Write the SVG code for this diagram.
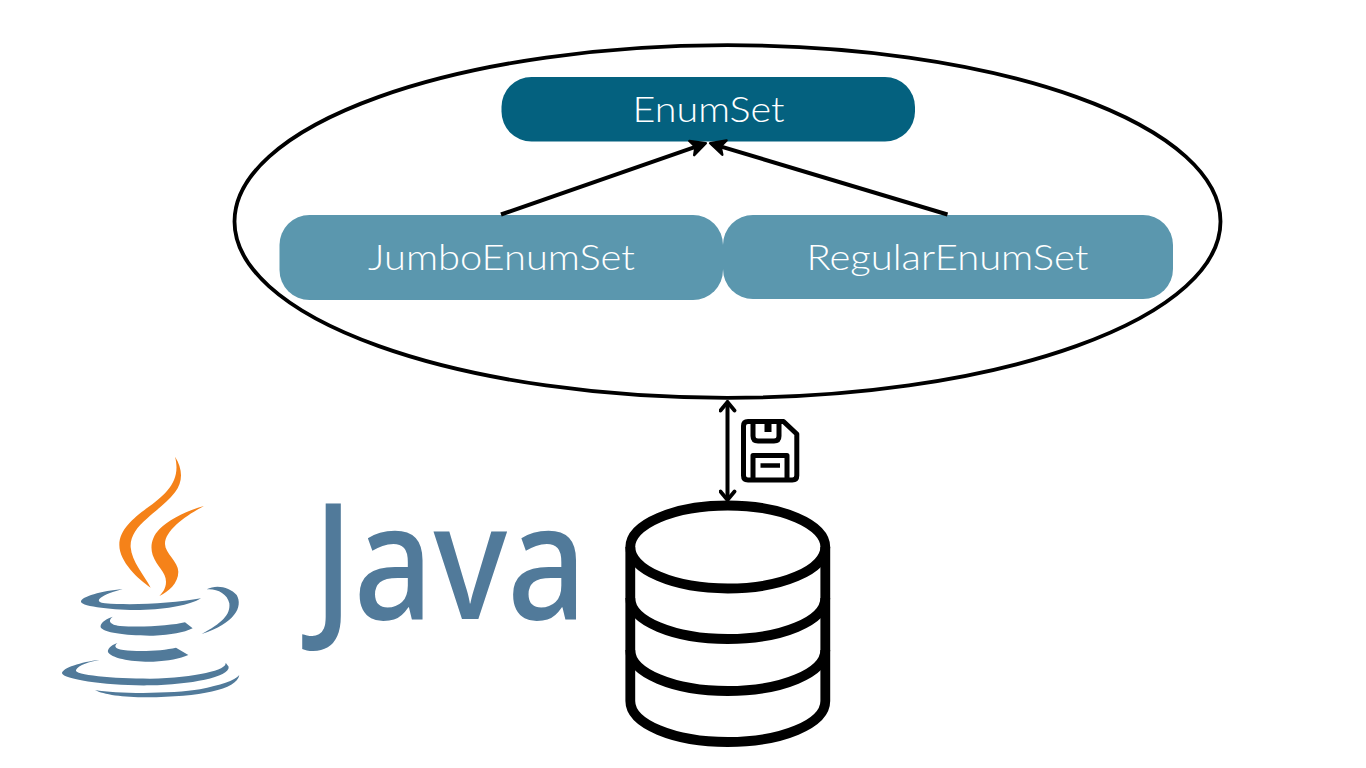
<svg xmlns="http://www.w3.org/2000/svg" width="1366" height="768" viewBox="0 0 1366 768">
<style>
.label{font-family:"Lato","Open Sans","Liberation Sans",sans-serif;font-weight:300;font-size:35.5px;fill:#fff;text-anchor:start}
.conn{fill:none;stroke:#000;stroke-width:4}
.db{fill:none;stroke:#000;stroke-width:9.8}
.blue{fill:#517a9a}
.orange{fill:#f58219}
</style>
<defs>
<marker id="head" viewBox="-12 -9 14 18" refX="0" refY="0" markerUnits="userSpaceOnUse" markerWidth="14" markerHeight="18" orient="auto-start-reverse">
<path d="M-8.5 -7L0 0L-8.5 7" fill="none" stroke="#000" stroke-width="3.8" stroke-linecap="round" stroke-linejoin="miter"/>
</marker>
<marker id="solid" viewBox="-16 -10 20 20" refX="0" refY="0" markerUnits="userSpaceOnUse" markerWidth="20" markerHeight="20" orient="auto">
<path d="M-13 -7.5L2 0L-13 7.5L-9 0Z" fill="#000" stroke="#000" stroke-width="2.4" stroke-linejoin="round"/>
</marker>
</defs>
<rect width="1366" height="768" fill="#fff"/>
<g id="boundary"><ellipse cx="727.5" cy="221.5" rx="493" ry="176.3" fill="none" stroke="#000" stroke-width="3.8"/></g>
<g id="node-enumset">
<rect x="501.5" y="77" width="413.5" height="64.5" rx="30" fill="#04617f"/>
<text class="label" x="632.5" y="121.5" textLength="152" lengthAdjust="spacingAndGlyphs">EnumSet</text>
</g>
<g id="node-jumbo">
<rect x="279.5" y="215" width="443.5" height="85" rx="30" fill="#5b97ae"/>
<text class="label" x="368" y="270" textLength="267" lengthAdjust="spacingAndGlyphs">JumboEnumSet</text>
</g>
<g id="node-regular">
<rect x="723" y="215" width="450" height="84" rx="30" fill="#5b97ae"/>
<text class="label" x="806.5" y="270" textLength="282" lengthAdjust="spacingAndGlyphs">RegularEnumSet</text>
</g>
<g id="connectors">
<line class="conn" x1="501" y1="214.5" x2="704" y2="143.8" marker-end="url(#solid)"/>
<line class="conn" x1="947.5" y1="214.5" x2="712" y2="143.8" marker-end="url(#solid)"/>
<line class="conn" x1="727.5" y1="402" x2="727.5" y2="500" stroke-width="3.8" marker-start="url(#head)" marker-end="url(#head)"/>
</g>
<g id="floppy" fill="none" stroke="#000" stroke-width="5" stroke-linejoin="round">
<path d="M748 421.5H783.5L796.8 434V475.5Q796.8 480 792.3 480H748Q743.5 480 743.5 475.5V426Q743.5 421.5 748 421.5Z"/>
<path d="M753 421.5V436Q753 441 758 441H774Q779 441 779 436V421.5"/>
<path d="M753 480V455.5H787V480"/>
<path d="M760.5 465.5H780" stroke-width="4.5"/>
<path d="M768 422V432" stroke-width="7"/>
</g>
<g id="database">
<ellipse class="db" cx="727.8" cy="547" rx="97.5" ry="41.5"/>
<path class="db" d="M630.3 547V701C630.3 724 674 742 727.8 742S825.3 724 825.3 701V547"/>
<path class="db" d="M630.3 598C630.3 621 674 639 727.8 639S825.3 621 825.3 598"/>
<path class="db" d="M630.3 650C630.3 673 674 691 727.8 691S825.3 673 825.3 650"/>
</g>
<g id="java-cup" transform="translate(40 440) scale(0.33333)">
<path class="orange" d="M405 50C428 85 430 125 405 157C380 190 345 212 322 235C290 262 270 290 272 322C275 365 312 405 332 443C295 418 238 365 238 315C238 270 280 235 320 205C375 165 425 125 405 50Z"/>
<path class="orange" d="M492 198C440 212 385 240 358 268C335 292 330 320 338 345C350 380 378 395 378 425C378 445 368 458 358 468C385 455 415 430 415 395C415 365 375 340 375 312C375 270 440 225 492 198Z"/>
<path class="blue" d="M248 447C185 453 123 470 123 485C125 500 225 510 300 510C385 508 450 495 483 475C400 490 280 497 195 490C165 487 165 470 248 447Z"/>
<path class="blue" d="M500 448C530 432 570 442 590 465C610 500 585 550 485 582C545 550 572 525 568 490C562 460 530 445 500 448Z"/>
<path class="blue" d="M218 530C190 540 180 552 182 562C190 578 260 588 340 587C395 585 430 578 458 565L435 547C400 556 310 563 240 558C205 553 205 540 218 530Z"/>
<path class="blue" d="M233 608C210 617 202 628 204 636C212 655 280 667 340 665C385 663 420 656 445 645L408 623C370 632 300 636 250 630C222 626 222 617 233 608Z"/>
<path class="blue" d="M178 660C125 665 65 685 66 700C70 718 200 738 330 736C450 733 570 712 566 680L557 668C562 690 470 712 330 716C220 716 100 705 108 690C115 675 150 665 178 660Z"/>
<path class="blue" d="M165 750C230 762 400 762 480 748C540 735 585 722 598 705C590 750 480 770 320 772C250 772 190 764 165 750Z"/>
</g>
<g id="java-word">
<text x="313" y="619" textLength="274" lengthAdjust="spacingAndGlyphs" font-family="'Noto Sans','Open Sans',sans-serif" font-weight="500" font-size="162" class="blue">Java</text>
</g>
</svg>
